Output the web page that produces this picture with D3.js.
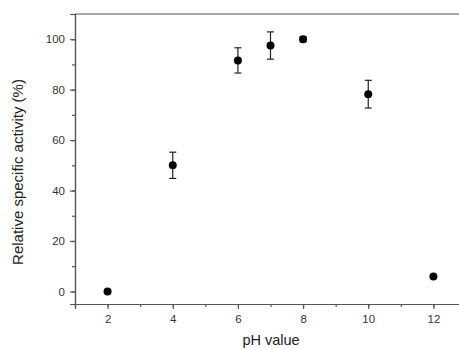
<!DOCTYPE html>
<html>
<head>
<meta charset="utf-8">
<script src="https://cdn.jsdelivr.net/npm/d3@7"></script>
<style>
  body { margin: 0; background: #fff; }
  svg { display: block; font-family: "Liberation Sans", Arial, sans-serif; }
  .axis path, .axis line { stroke: #555; }
  .axis text { fill: #333; font-size: 11.5px; }
</style>
</head>
<body>
<svg id="chart" width="459" height="349"></svg>
<script>
// pH series
const phValues = [2, 4, 6, 7, 8, 10, 12];
const activity = [0, 50, 91.6, 97.5, 100, 78.2, 5.9];
const errors = [0, 5.2, 5, 5.4, 1, 5.5, 0];
const xTicks = [2, 4, 6, 8, 10, 12];
const yTicks = [0, 20, 40, 60, 80, 100];

const svg = d3.select('#chart');
const m = { left: 75, top: 14, right: -7, bottom: 45 };
const W = 459, H = 349;

const x = d3.scaleLinear().domain([1, 13]).range([m.left, W - m.right]);
const y = d3.scaleLinear().domain([-5, 110]).range([H - m.bottom, m.top]);

// top frame line (right side falls outside the picture)
svg.append('line').attr('x1', x(1)).attr('x2', x(13)).attr('y1', y(110)).attr('y2', y(110))
  .attr('stroke', '#555').attr('stroke-width', 1.2);

// minor ticks
svg.append('g').attr('class', 'axis').attr('transform', `translate(0,${y(-5)})`)
  .call(d3.axisBottom(x).tickValues(d3.range(1, 14, 1)).tickSize(3).tickFormat(''));
const gxM = svg.append('g').attr('class', 'axis').attr('transform', `translate(0,${y(-5)})`)
  .call(d3.axisBottom(x).tickValues(xTicks).tickSize(5).tickPadding(6));

svg.append('g').attr('class', 'axis').attr('transform', `translate(${x(1)},0)`)
  .call(d3.axisLeft(y).tickValues(d3.range(0, 111, 10)).tickSize(3).tickFormat(''));
const gyM = svg.append('g').attr('class', 'axis').attr('transform', `translate(${x(1)},0)`)
  .call(d3.axisLeft(y).tickValues(yTicks).tickSize(5).tickPadding(5));
svg.selectAll('.axis .domain, .axis .tick line').attr('stroke-width', 1.2);

// error bars
const pts = phValues.map((p, i) => ({ p, v: activity[i], e: errors[i] }));
const eb = svg.append('g').attr('stroke', '#222').attr('stroke-width', 1.2);
pts.filter(d => d.e > 0).forEach(d => {
  eb.append('line').attr('x1', x(d.p)).attr('x2', x(d.p)).attr('y1', y(d.v - d.e)).attr('y2', y(d.v + d.e));
  [d.v - d.e, d.v + d.e].forEach(t => {
    eb.append('line').attr('x1', x(d.p) - 3.5).attr('x2', x(d.p) + 3.5).attr('y1', y(t)).attr('y2', y(t));
  });
});

svg.append('g').selectAll('circle').data(pts).join('circle')
  .attr('cx', d => x(d.p)).attr('cy', d => y(d.v)).attr('r', 4).attr('fill', '#000');

svg.append('text').attr('x', 271).attr('y', 345).attr('text-anchor', 'middle')
  .attr('font-size', 14.5).attr('fill', '#222').text('pH value');
svg.append('text').attr('transform', 'translate(23,172) rotate(-90)')
  .attr('text-anchor', 'middle').attr('font-size', 15).attr('fill', '#222')
  .text('Relative specific activity (%)');
</script>
</body>
</html>
